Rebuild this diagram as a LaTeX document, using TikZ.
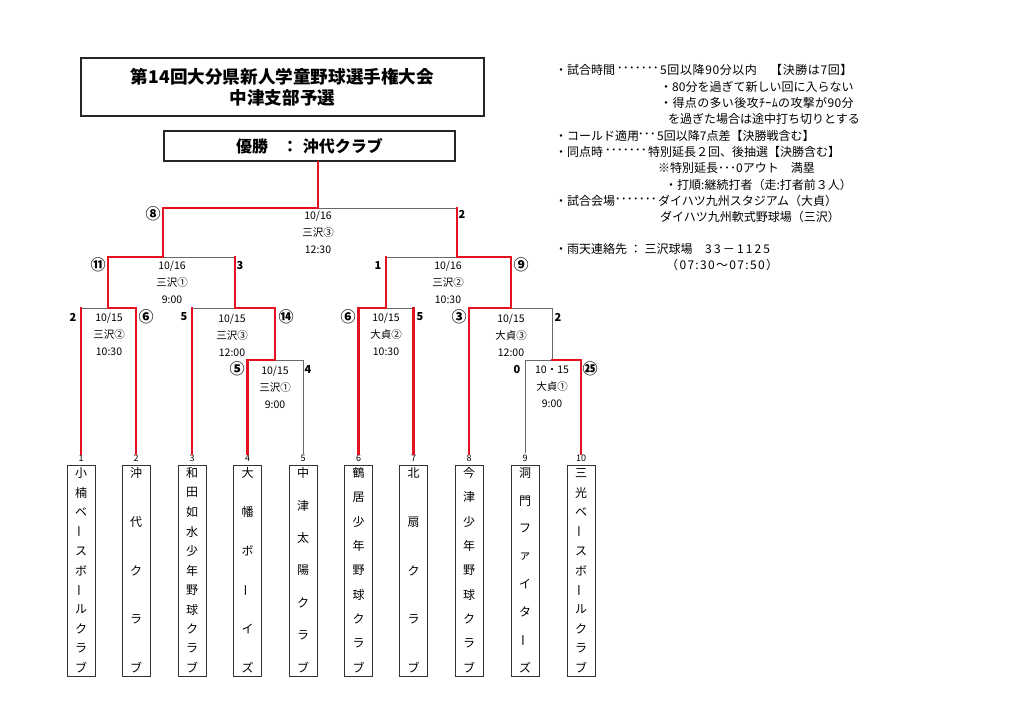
\documentclass[tikz,border=0pt]{standalone}
\usepackage{fontspec}
\setmainfont{Noto Sans CJK JP}
\definecolor{bred}{RGB}{228,18,30}
\definecolor{bgray}{RGB}{105,105,105}
\newcommand{\vb}{\rotatebox[origin=c]{90}{ー}}
\tikzset{
  win/.style={draw=bred, line width=2.3pt, line cap=rect},
  lose/.style={draw=bgray, line width=0.9pt},
  frame/.style={draw=black!85, line width=1.3pt, inner sep=0},
  info/.style={font=\fontsize{10.5}{17}\selectfont, inner sep=0, align=center},
  score/.style={font=\fontsize{11}{12}\selectfont\bfseries, inner sep=0},
  cscore/.style={font=\fontsize{15}{16}\selectfont\bfseries, inner sep=0},
  note/.style={font=\fontsize{12}{14}\selectfont, inner sep=0, anchor=west},
  teambox/.style={draw=black!80, line width=1pt, minimum width=28pt, minimum height=211pt, inner sep=0},
  teamnum/.style={font=\fontsize{9}{10}\selectfont, inner sep=1pt},
  teamch/.style={font=\fontsize{12}{13}\selectfont, inner sep=0},
}
\newcommand{\team}[4]{%
  \node[teambox] (t#1) at (#2,570.5) {};
  \node[teamnum] (n#1) at (#2,458) {#1};
  \foreach \c [count=\k] in {#4} {
    \node[teamch] (t#1c\k) at (#2,{473+(\k-1)*195/(#3-1)}) {\c};
  }
}
\begin{document}
\begin{tikzpicture}[x=1pt,y=-1pt]
\useasboundingbox (0,0) rectangle (1024,724);

% title
\node[frame, minimum width=403pt, minimum height=58pt] (title) at (282.5,87) {};
\node[inner sep=0, align=center, font=\fontsize{17.6}{21}\selectfont\bfseries] (titletext) at (282.5,87) {第14回大分県新人学童野球選手権大会\\中津支部予選};
\node[frame, minimum width=291pt, minimum height=30pt, font=\fontsize{16}{17}\selectfont\bfseries] (champ) at (309.5,146) {優勝\hspace{14pt}：\hspace{5pt}沖代クラブ};

% teams
\team{1}{81}{11}{小,楠,ベ,\vb,ス,ボ,\vb,ル,ク,ラ,ブ}
\team{2}{136}{5}{沖,代,ク,ラ,ブ}
\team{3}{192}{11}{和,田,如,水,少,年,野,球,ク,ラ,ブ}
\team{4}{247.5}{6}{大,幡,ボ,\vb,イ,ズ}
\team{5}{303}{7}{中,津,太,陽,ク,ラ,ブ}
\team{6}{358.5}{9}{鶴,居,少,年,野,球,ク,ラ,ブ}
\team{7}{413.5}{5}{北,扇,ク,ラ,ブ}
\team{8}{469}{9}{今,津,少,年,野,球,ク,ラ,ブ}
\team{9}{525}{8}{洞,門,フ,ァ,イ,タ,\vb,ズ}
\team{10}{581}{11}{三,光,ベ,\vb,ス,ボ,\vb,ル,ク,ラ,ブ}

% bracket points
\coordinate (F) at (318,208);
\coordinate (FL) at (163,208);
\coordinate (FR) at (457,208);
\coordinate (SL1) at (108,257);
\coordinate (SLm) at (163,257);
\coordinate (SL2) at (235,257);
\coordinate (SR1) at (386,257);
\coordinate (SRm) at (457,257);
\coordinate (SR2) at (511,257);
\coordinate (A1) at (81,308);
\coordinate (Am) at (108,308);
\coordinate (A2) at (136,308);
\coordinate (B1) at (192,308);
\coordinate (Bm) at (235,308);
\coordinate (B2) at (275,308);
\coordinate (C1) at (247.5,360);
\coordinate (Cm) at (275,360);
\coordinate (C2) at (303,360);
\coordinate (D1) at (358.5,308);
\coordinate (Dm) at (386,308);
\coordinate (D2) at (413.5,308);
\coordinate (E1) at (469,308);
\coordinate (Em) at (511,308);
\coordinate (E2) at (552,308);
\coordinate (G1) at (525,360);
\coordinate (Gm) at (552,360);
\coordinate (G2) at (581,360);

% losing lines
\draw[lose] (F) -- (FR);
\draw[lose] (SLm) -- (SL2);
\draw[lose] (SR1) -- (SRm);
\draw[lose] (A1) -- (Am);
\draw[lose] (B1) -- (Bm);
\draw[lose] (Cm) -- (C2) -- (n5.north);
\draw[lose] (Dm) -- (D2);
\draw[lose] (Em) -- (E2) -- (Gm);
\draw[lose] (n9.north) -- (G1) -- (Gm);

% winning lines
\draw[win] (F |- champ.south) -- (F) -- (FL) -- (SLm) -- (SL1) -- (Am) -- (A2) -- (n2.north);
\draw[win] (FR) -- (SRm) -- (SR2) -- (Em) -- (E1) -- (n8.north);
\draw[win] (A1) -- (n1.north);
\draw[win] (SL2) -- (Bm) -- (B2) -- (Cm) -- (C1) -- (n4.north);
\draw[win] (B1) -- (n3.north);
\draw[win] (SR1) -- (Dm) -- (D1) -- (n6.north);
\draw[win] (D2) -- (n7.north);
\draw[win] (Gm) -- (G2) -- (n10.north);

% match info
\node[info] (i0) at (318,232) {10/16\\三沢③\\12:30};
\node[info] (i1) at (172,282) {10/16\\三沢①\\9:00};
\node[info] (i2) at (448,282) {10/16\\三沢②\\10:30};
\node[info] (i3) at (109,334) {10/15\\三沢②\\10:30};
\node[info] (i4) at (232,335) {10/15\\三沢③\\12:00};
\node[info] (i5) at (275,387) {10/15\\三沢①\\9:00};
\node[info] (i6) at (386,334) {10/15\\大貞②\\10:30};
\node[info] (i7) at (511,335) {10/15\\大貞③\\12:00};
\node[info] (i8) at (552,387) {10・15\\大貞①\\9:00};

% scores
\node[cscore] (s1) at (153,214) {⑧};
\node[score] (s2) at (462,214) {2};
\node[cscore] (s3) at (98,265) {⑪};
\node[score] (s4) at (240,265) {3};
\node[score] (s5) at (378,265) {1};
\node[cscore] (s6) at (521,265) {⑨};
\node[score] (s7) at (73,317) {2};
\node[cscore] (s8) at (146,317) {⑥};
\node[score] (s9) at (184,317) {5};
\node[cscore] (s10) at (286,317) {⑭};
\node[cscore] (s11) at (237,369) {⑤};
\node[score] (s12) at (308,369) {4};
\node[cscore] (s13) at (348,317) {⑥};
\node[score] (s14) at (420,317) {5};
\node[cscore] (s15) at (459,317) {③};
\node[score] (s16) at (558,317) {2};
\node[score] (s17) at (517,369) {0};
\node[cscore] (s18) at (590,369) {㉕};

% notes
\node[note] (r1a) at (555,70) {・試合時間};
\node[note, anchor=east] (r1d) at (659,70) {･･･････};
\node[note, font=\fontsize{12}{14}\selectfont\addfontfeatures{LetterSpace=5}] (r1b) at (660,70) {5回以降90分以内　【決勝は7回】};
\node[note] (r2) at (660,86.5) {・80分を過ぎて新しい回に入らない};
\node[note, font=\fontsize{12}{14}\selectfont\addfontfeatures{LetterSpace=3}] (r3) at (660,103) {・得点の多い後攻ﾁｰﾑの攻撃が90分};
\node[note] (r4) at (668,119) {を過ぎた場合は途中打ち切りとする};
\node[note] (r5a) at (555,135.5) {・コールド適用};
\node[note, anchor=east] (r5d) at (656,135.5) {････};
\node[note] (r5b) at (657,135.5) {5回以降7点差【決勝戦含む】};
\node[note] (r6a) at (555,152) {・同点時};
\node[note, anchor=east] (r6d) at (647,152) {･･･････};
\node[note] (r6b) at (648,152) {特別延長２回、後抽選【決勝含む】};
\node[note] (r7) at (658,168) {※特別延長･･･0アウト　満塁};
\node[note] (r8) at (665,185) {・打順:継続打者（走:打者前３人）};
\node[note] (r9a) at (555,201) {・試合会場};
\node[note, anchor=east] (r9d) at (657,201) {･･･････};
\node[note] (r9b) at (658,201) {ダイハツ九州スタジアム（大貞）};
\node[note] (r10) at (660,217) {ダイハツ九州軟式野球場（三沢）};
\node[note] (r11a) at (555,249) {・雨天連絡先 ： 三沢球場};
\node[note, font=\fontsize{12}{14}\selectfont\addfontfeatures{LetterSpace=18}] (r11b) at (705,249) {33－1125};
\node[note, font=\fontsize{12}{14}\selectfont\addfontfeatures{LetterSpace=11}] (r12) at (666,265) {（07:30～07:50）};
\end{tikzpicture}
\end{document}
